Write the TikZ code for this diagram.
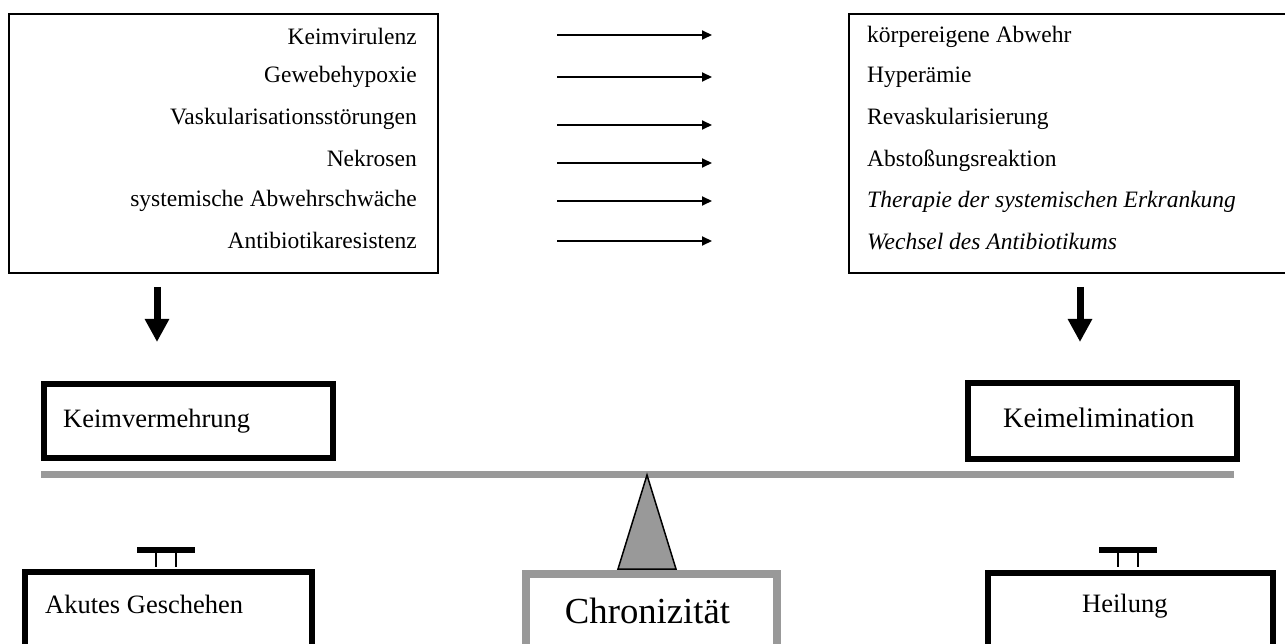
\documentclass[tikz,border=0pt]{standalone}
\usepackage{fontspec}
\setmainfont{Liberation Serif}
\usetikzlibrary{arrows.meta}
\definecolor{beamgray}{RGB}{153,153,153}
\begin{document}
\begin{tikzpicture}[x=1pt,y=-1pt,
  lst/.style={inner sep=0pt, font=\fontsize{23.5}{28}\selectfont},
  midtext/.style={inner sep=0pt, font=\fontsize{26.5}{30}\selectfont},
  thinbox/.style={draw, line width=2pt, inner sep=0pt, anchor=north west},
  thickbox/.style={draw, line width=6pt, inner sep=0pt, anchor=north west},
  greybox/.style={draw=beamgray, line width=8pt, inner sep=0pt, anchor=north west},
  harrow/.style={line width=2pt, -{Triangle[length=10pt,width=9pt]}},
  darrow/.style={line width=7pt, -{Triangle[length=23pt,width=23pt]}},
  beam/.style={draw=beamgray, line width=7pt},
  wbar/.style={line width=6pt},
  wleg/.style={line width=1.2pt}]
\useasboundingbox (0,0) rectangle (1285,644);
\clip (0,0) rectangle (1285,644);

% top boxes
\node[thinbox, minimum width=429pt, minimum height=259pt] (causes) at (8,13) {};
\node[thinbox, minimum width=480pt, minimum height=259pt] (remedies) at (848,13) {};

\node[lst, anchor=base east] (c1) at (417,45) {Keimvirulenz};
\node[lst, anchor=base east] (c2) at (417,83) {Gewebehypoxie};
\node[lst, anchor=base east] (c3) at (417,125) {Vaskularisationsstörungen};
\node[lst, anchor=base east] (c4) at (417,167) {Nekrosen};
\node[lst, anchor=base east] (c5) at (417,207) {systemische Abwehrschwäche};
\node[lst, anchor=base east] (c6) at (417,249) {Antibiotikaresistenz};

\node[lst, anchor=base west] (r1) at (867,43) {körpereigene Abwehr};
\node[lst, anchor=base west] (r2) at (867,83) {Hyperämie};
\node[lst, anchor=base west] (r3) at (867,125) {Revaskularisierung};
\node[lst, anchor=base west] (r4) at (867,167) {Abstoßungsreaktion};
\node[lst, anchor=base west] (r5) at (867,208) {\itshape Therapie der systemischen Erkrankung};
\node[lst, anchor=base west] (r6) at (867,250) {\itshape Wechsel des Antibiotikums};

% horizontal arrows
\foreach \i/\y in {1/35,2/77,3/125,4/163,5/201,6/241}{
  \coordinate (hs\i) at (557,\y);
  \coordinate (he\i) at (712,\y);
  \draw[harrow] (hs\i) -- (he\i);
}

% down arrows
\coordinate (dls) at (157,287);
\coordinate (dle) at (157,342);
\coordinate (drs) at (1080,287);
\coordinate (dre) at (1080,342);
\draw[darrow] (dls) -- (dle);
\draw[darrow] (drs) -- (dre);

% middle boxes
\node[thickbox, minimum width=289pt, minimum height=74pt] (kv) at (41,381) {};
\node[midtext, anchor=base west] (kvt) at (63,427) {Keimvermehrung};
\node[thickbox, minimum width=269pt, minimum height=76pt] (ke) at (965,380) {};
\node[inner sep=0pt, font=\fontsize{28.2}{32}\selectfont, anchor=base west] (ket) at (1003,427) {Keimelimination};

% beam
\coordinate (bl) at (41,474.5);
\coordinate (br) at (1234,474.5);
\draw[beam] (bl) -- (br);

% bottom boxes
\node[thickbox, minimum width=287pt, minimum height=100pt] (ak) at (22,569) {};
\node[midtext, anchor=base west] (akt) at (45,613) {Akutes Geschehen};
\node[greybox, minimum width=251pt, minimum height=100pt] (ch) at (522,570) {};
\node[inner sep=0pt, font=\fontsize{36.7}{40}\selectfont, anchor=base] (cht) at (647.5,623) {Chronizität};
\node[thickbox, minimum width=285pt, minimum height=100pt] (he) at (985,570) {};
\node[midtext, anchor=base west] (het) at (1082,612) {Heilung};

% fulcrum
\coordinate (fa) at (647,475);
\coordinate (fb1) at (618,569);
\coordinate (fb2) at (676,569);
\draw[fill=beamgray, line width=1.5pt, line join=miter] (fa) -- (fb1) -- (fb2) -- cycle;

% weights
\coordinate (wl1) at (137,550); \coordinate (wl2) at (195,550);
\draw[wbar] (wl1) -- (wl2);
\coordinate (wla) at (156,553); \coordinate (wlb) at (156,567);
\coordinate (wlc) at (176,553); \coordinate (wld) at (176,567);
\draw[wleg] (wla) -- (wlb) (wlc) -- (wld);
\coordinate (wr1) at (1099,550); \coordinate (wr2) at (1157,550);
\draw[wbar] (wr1) -- (wr2);
\coordinate (wra) at (1118,553); \coordinate (wrb) at (1118,567);
\coordinate (wrc) at (1138,553); \coordinate (wrd) at (1138,567);
\draw[wleg] (wra) -- (wrb) (wrc) -- (wrd);
\end{tikzpicture}
\end{document}
